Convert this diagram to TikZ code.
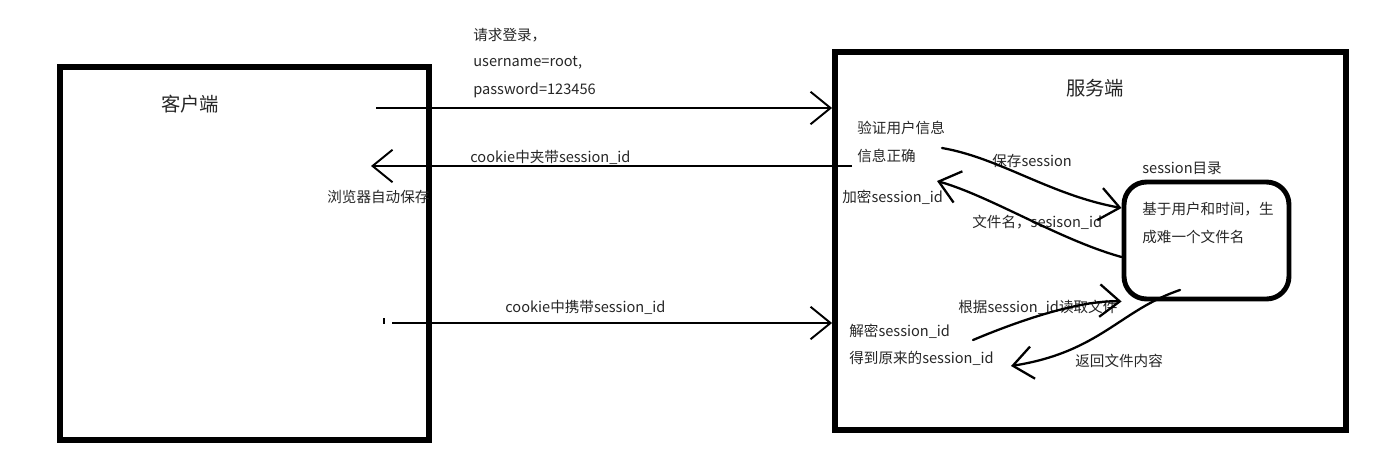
\documentclass[tikz,border=0pt]{standalone}
\usepackage{fontspec}
\setmainfont{Noto Sans CJK SC}
\usetikzlibrary{arrows.meta,positioning}

\begin{document}
\begin{tikzpicture}[x=0.02cm,y=-0.02cm,>={Straight Barb[length=4mm,width=6.5mm]},
	txt/.style={anchor=west,inner sep=0pt,text=black!85,font=\fontsize{8.3}{9}\selectfont},
	title/.style={inner sep=0pt,text=black!85,font=\fontsize{11}{13}\selectfont},
	side/.style={draw,line width=3.4pt,inner sep=0pt},
	msg/.style={->,line width=1.1pt},
	curve/.style={->,line width=1.3pt,line cap=round},
	node distance=0.55cm]

	\useasboundingbox (0,0) rectangle (1390,468);

	% the two sides and the session folder
	\node[side,minimum width=7.38cm,minimum height=7.46cm](client) at (244.5,253.5){};
	\node[side,minimum width=10.22cm,minimum height=7.56cm](server) at (1090.5,241){};
	\node[draw,line width=2.8pt,rounded corners=0.45cm,minimum width=3.3cm,
		minimum height=2.34cm](dir) at (1206.5,240.5){};

	\node[title](ctitle) at (190,104){客户端};
	\node[title](stitle) at (1095,88){服务端};

	% login request
	\node[txt](req1) at (473,35){请求登录，};
	\node[txt](req2)[below=0.55cm of req1.west,anchor=west]{username=root,};
	\node[txt](req3)[below=0.55cm of req2.west,anchor=west]{password=123456};
	\coordinate (reqstart) at (376,108);
	\draw[msg] (reqstart) -- (server.west |- reqstart);

	\node[txt](check) at (857,128){验证用户信息};
	\node[txt](ok) at (857,156){信息正确};
	\node[txt](enc) at (842,197){加密session\_id};

	% cookie back to the browser
	\node[txt](cookie1) at (470,157){cookie中夹带session\_id};
	\node[txt](save) at (327,197){浏览器自动保存};
	\coordinate (okend) at (852,166);
	\coordinate (browser) at (371,166);
	\draw[msg] (okend) -- (browser);

	% session folder
	\node[txt](dirname) at (1142,168){session目录};
	\node[txt](gen1) at (1142,209){基于用户和时间，生};
	\node[txt](gen2) at (1142,237){成难一个文件名};
	\node[txt](keep) at (992,161){保存session};
	\node[txt](fname) at (972,222){文件名，sesison\_id};
	\coordinate (okout) at (942,148);
	\coordinate (encin) at (937,181);
	\draw[curve] (okout) .. controls (1000,158) and (1050,195) .. (dir.west |- 0,208);
	\draw[curve] (dir.west |- 0,257) .. controls (1060,240) and (990,196) .. (encin);

	% next request
	\node[txt](cookie2) at (505,307){cookie中携带session\_id};
	\coordinate (tick) at (384,318);
	\draw[line width=1.1pt] (tick) -- ++(0,6);
	\coordinate (nextstart) at (392,323);
	\draw[msg] (nextstart) -- (server.west |- nextstart);

	\node[txt](dec) at (849,331){解密session\_id};
	\node[txt](orig) at (849,358){得到原来的session\_id};
	\node[txt](read) at (958,307){根据session\_id读取文件};
	\node[txt](back) at (1075,361){返回文件内容};
	\coordinate (decout) at (973,340);
	\coordinate (dirout) at (1180,290);
	\coordinate (origin) at (1011,366);
	\draw[curve] (decout) .. controls (1030,316) and (1085,300) .. (dir.south west);
	\draw[curve] (dirout) .. controls (1120,310) and (1100,352) .. (origin);
\end{tikzpicture}
\end{document}
